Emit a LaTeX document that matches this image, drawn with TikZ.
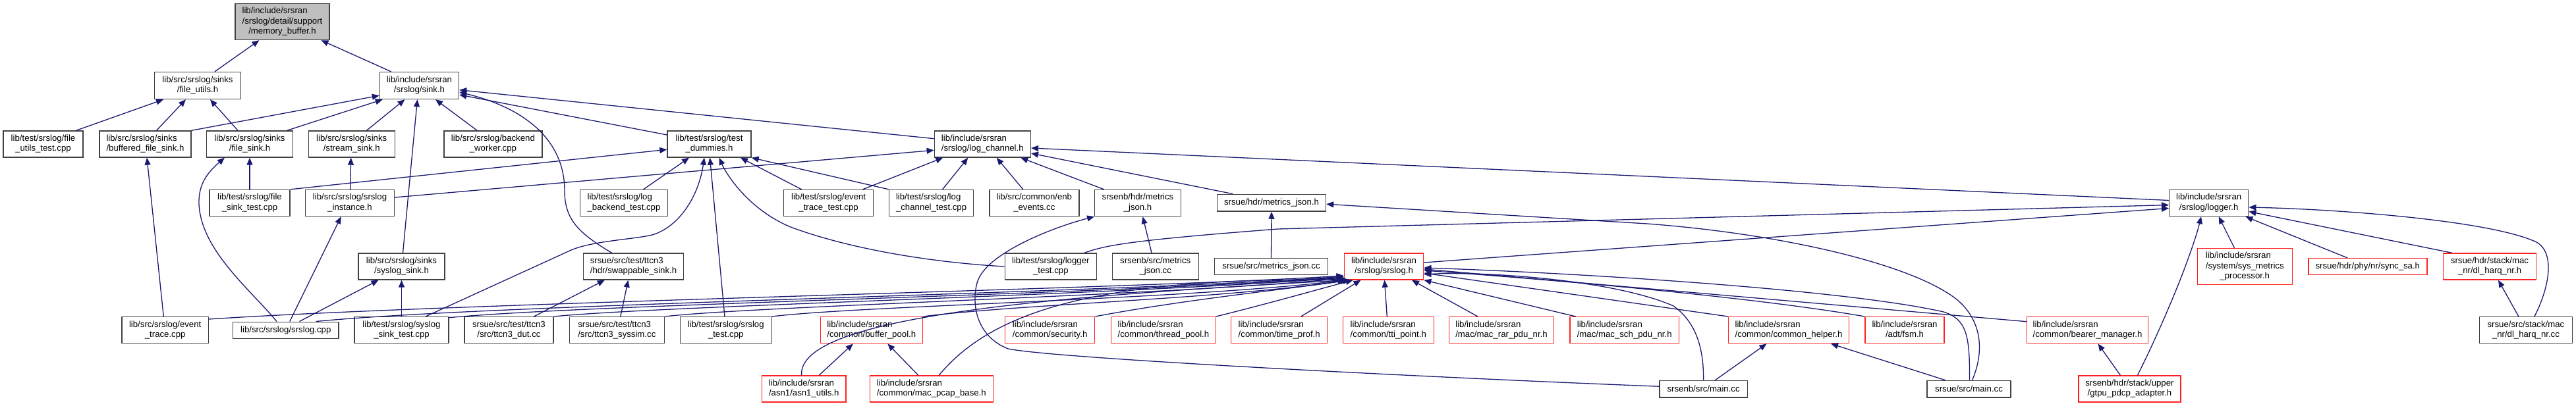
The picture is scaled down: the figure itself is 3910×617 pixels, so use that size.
\documentclass[tikz,border=0pt]{standalone}
\usepackage{fontspec}
\setmainfont{Liberation Sans}
\usetikzlibrary{arrows.meta,calc}
\definecolor{mblue}{HTML}{191970}
\definecolor{gfill}{HTML}{BFBFBF}
\definecolor{gline}{HTML}{404040}
\definecolor{rline}{HTML}{FF2020}
\newcommand{\nodefont}{\fontsize{13.2}{15.3}\selectfont}
\newcommand{\twoline}[2]{\begin{tabular}{@{}l@{}}#1\\\multicolumn{1}{@{}c@{}}{#2}\end{tabular}}
\newcommand{\threeline}[3]{\begin{tabular}{@{}l@{}}#1\\#2\\\multicolumn{1}{@{}c@{}}{#3}\end{tabular}}
\tikzset{
  nb/.style={draw=gline, line width=1.4pt, fill=white, inner sep=0pt, font=\nodefont, align=center, minimum height=40pt},
  nr/.style={nb, draw=rline},
  ng/.style={nb, fill=gfill},
  dep/.style={draw=mblue, line width=1.3pt, -{Triangle[length=11pt,width=9pt]}},
}
\begin{document}
\begin{tikzpicture}[x=1pt,y=-1pt]
\useasboundingbox (0,0) rectangle (3910,617);
% nodes
\node[ng,minimum width=143pt,minimum height=55pt] (n0) at (428.5,33) {\threeline{lib/include/srsran}{/srslog/detail/support}{/memory\_buffer.h}};
\node[nb,minimum width=131pt,minimum height=41pt] (n1) at (300,130) {\twoline{lib/src/srslog/sinks}{/file\_utils.h}};
\node[nb,minimum width=120pt,minimum height=41pt] (n2) at (636.5,130) {\twoline{lib/include/srsran}{/srslog/sink.h}};
\node[nb,minimum width=121pt] (n3) at (65.5,219) {\twoline{lib/test/srslog/file}{\_utils\_test.cpp}};
\node[nb,minimum width=139pt] (n4) at (220.5,219) {\twoline{lib/src/srslog/sinks}{/buffered\_file\_sink.h}};
\node[nb,minimum width=131pt] (n5) at (379,219) {\twoline{lib/src/srslog/sinks}{/file\_sink.h}};
\node[nb,minimum width=131pt] (n6) at (533.7,219) {\twoline{lib/src/srslog/sinks}{/stream\_sink.h}};
\node[nb,minimum width=149pt] (n7) at (748.4,219) {\twoline{lib/src/srslog/backend}{\_worker.cpp}};
\node[nb,minimum width=127pt] (n8) at (1076.5,219) {\twoline{lib/test/srslog/test}{\_dummies.h}};
\node[nb,minimum width=146pt] (n9) at (1491.3,219) {\twoline{lib/include/srsran}{/srslog/log\_channel.h}};
\node[nb,minimum width=122pt] (n10) at (379,308.5) {\twoline{lib/test/srslog/file}{\_sink\_test.cpp}};
\node[nb,minimum width=135pt] (n11) at (531,308.5) {\twoline{lib/src/srslog/srslog}{\_instance.h}};
\node[nb,minimum width=133pt] (n12) at (947,308.5) {\twoline{lib/test/srslog/log}{\_backend\_test.cpp}};
\node[nb,minimum width=136pt] (n13) at (1257.6,308.5) {\twoline{lib/test/srslog/event}{\_trace\_test.cpp}};
\node[nb,minimum width=128pt] (n14) at (1413.6,308.5) {\twoline{lib/test/srslog/log}{\_channel\_test.cpp}};
\node[nb,minimum width=136pt] (n15) at (1569.8,308.5) {\twoline{lib/src/common/enb}{\_events.cc}};
\node[nb,minimum width=130.5pt] (n16) at (1727,308.5) {\twoline{srsenb/hdr/metrics}{\_json.h}};
\node[nb,minimum width=165pt,minimum height=25.7pt] (n17) at (1930,308.2) {srsue/hdr/metrics\_json.h};
\node[nb,minimum width=120pt] (n18) at (3352.7,308.5) {\twoline{lib/include/srsran}{/srslog/logger.h}};
\node[nb,minimum width=131pt] (n19) at (609.5,405) {\twoline{lib/src/srslog/sinks}{/syslog\_sink.h}};
\node[nb,minimum width=152pt] (n20) at (961.5,405) {\twoline{srsue/src/test/ttcn3}{/hdr/swappable\_sink.h}};
\node[nb,minimum width=139pt] (n21) at (1594.8,405) {\twoline{lib/test/srslog/logger}{\_test.cpp}};
\node[nb,minimum width=131pt] (n22) at (1753.7,405) {\twoline{srsenb/src/metrics}{\_json.cc}};
\node[nb,minimum width=172pt,minimum height=25pt] (n23) at (1929.5,405.2) {srsue/src/metrics\_json.cc};
\node[nr,minimum width=120.3pt] (n24) at (2100.5,405) {\twoline{lib/include/srsran}{/srslog/srslog.h}};
\node[nr,minimum width=144pt,minimum height=55pt] (n25) at (3407.2,405.2) {\threeline{lib/include/srsran}{/system/sys\_metrics}{\_processor.h}};
\node[nr,minimum width=180pt,minimum height=25pt] (n26) at (3593.8,405.2) {srsue/hdr/phy/nr/sync\_sa.h};
\node[nr,minimum width=141pt] (n27) at (3779,405) {\twoline{srsue/hdr/stack/mac}{\_nr/dl\_harq\_nr.h}};
\node[nb,minimum width=131.5pt] (n28) at (250.7,501.7) {\twoline{lib/src/srslog/event}{\_trace.cpp}};
\node[nb,minimum width=160.5pt,minimum height=25pt] (n29) at (433.8,501.7) {lib/src/srslog/srslog.cpp};
\node[nb,minimum width=143pt] (n30) at (609.5,501.7) {\twoline{lib/test/srslog/syslog}{\_sink\_test.cpp}};
\node[nb,minimum width=135pt] (n31) at (772.4,501.7) {\twoline{srsue/src/test/ttcn3}{/src/ttcn3\_dut.cc}};
\node[nb,minimum width=144pt] (n32) at (936.3,501.7) {\twoline{srsue/src/test/ttcn3}{/src/ttcn3\_syssim.cc}};
\node[nb,minimum width=139pt] (n33) at (1101.7,501.7) {\twoline{lib/test/srslog/srslog}{\_test.cpp}};
\node[nr,minimum width=155pt] (n34) at (1322.8,501.7) {\twoline{lib/include/srsran}{/common/buffer\_pool.h}};
\node[nr,minimum width=136pt] (n35) at (1593.6,501.7) {\twoline{lib/include/srsran}{/common/security.h}};
\node[nr,minimum width=158.6pt] (n36) at (1765.9,501.7) {\twoline{lib/include/srsran}{/common/thread\_pool.h}};
\node[nr,minimum width=146pt] (n37) at (1941.7,501.7) {\twoline{lib/include/srsran}{/common/time\_prof.h}};
\node[nr,minimum width=138pt] (n38) at (2107.3,501.7) {\twoline{lib/include/srsran}{/common/tti\_point.h}};
\node[nr,minimum width=159pt] (n39) at (2279,501.7) {\twoline{lib/include/srsran}{/mac/mac\_rar\_pdu\_nr.h}};
\node[nr,minimum width=165.4pt] (n40) at (2465.7,501.7) {\twoline{lib/include/srsran}{/mac/mac\_sch\_pdu\_nr.h}};
\node[nr,minimum width=182.6pt] (n41) at (2715,501.7) {\twoline{lib/include/srsran}{/common/common\_helper.h}};
\node[nr,minimum width=120pt] (n42) at (2891,501.7) {\twoline{lib/include/srsran}{/adt/fsm.h}};
\node[nr,minimum width=184pt] (n43) at (3168.5,501.7) {\twoline{lib/include/srsran}{/common/bearer\_manager.h}};
\node[nb,minimum width=141pt] (n44) at (3833.9,501.7) {\twoline{srsue/src/stack/mac}{\_nr/dl\_harq\_nr.cc}};
\node[nr,minimum width=127.6pt] (n45) at (1220.2,591) {\twoline{lib/include/srsran}{/asn1/asn1\_utils.h}};
\node[nr,minimum width=187pt] (n46) at (1413.8,591) {\twoline{lib/include/srsran}{/common/mac\_pcap\_base.h}};
\node[nb,minimum width=133.5pt,minimum height=25.7pt] (n47) at (2585.6,591.2) {srsenb/src/main.cc};
\node[nb,minimum width=126.7pt,minimum height=25.7pt] (n48) at (2988.5,591.2) {srsue/src/main.cc};
\node[nr,minimum width=154.8pt] (n49) at (3232.4,591) {\twoline{srsenb/hdr/stack/upper}{/gtpu\_pdcp\_adapter.h}};
% edges
\draw[dep] ($(n1.north)+(26,0)$) -- ($(n0.south)+(-35,0)$);
\draw[dep] ($(n2.north)+(-43,0)$) -- ($(n0.south)+(59,0)$);
\draw[dep] ($(n3.north)+(50,0)$) -- ($(n1.south)+(-52,0)$);
\draw[dep] ($(n4.north)+(17,0)$) -- ($(n1.south)+(-18,0)$);
\draw[dep] ($(n5.north)+(-18,0)$) -- ($(n1.south)+(19,0)$);
\draw[dep] (n4.north east) -- ($(n2.south west)+(0,-6)$);
\draw[dep] ($(n5.north)+(56.6,0)$) -- ($(n2.south)+(-55.7,0)$);
\draw[dep] ($(n6.north)+(22.7,0)$) -- ($(n2.south)+(-22,0)$);
\draw[dep] ($(n19.north)+(2,0)$) -- ($(n2.south)+(-3,0)$);
\draw[dep] ($(n7.north)+(-24.2,0)$) -- ($(n2.south)+(24.5,0)$);
\draw[dep] ($(n8.west)+(0,-14)$) -- ($(n2.east)+(0,14)$);
\draw[dep] ($(n9.west)+(0,-8.3)$) -- ($(n2.east)+(0,6.7)$);
\draw[dep] ($(n20.north)+(-33,0)$) .. controls (880,355) and (857,335) .. (857,290) .. controls (857,215) and (800,165) .. ($(n2.east)+(0,10)$);
\draw[dep] (n10.north) -- (n5.south);
\draw[dep] ($(n29.north)+(-13.8,0)$) .. controls (380,440) and (305,380) .. (302,310) .. controls (301,280) and (315,262) .. ($(n5.south)+(-38,0)$);
\draw[dep] ($(n11.north)+(0.6,0)$) -- ($(n6.south)+(-1,0)$);
\draw[dep] ($(n28.north)+(-2.4,0)$) -- ($(n4.south)+(2.5,0)$);
\draw[dep] ($(n29.north)+(6,0)$) -- ($(n11.south)+(-13.3,0)$);
\draw[dep] ($(n29.north)+(20.7,0)$) -- ($(n19.south)+(-35,0)$);
\draw[dep] (n30.north) -- (n19.south);
\draw[dep] ($(n12.north)+(29.7,0)$) -- ($(n8.south)+(-30.5,0)$);
\draw[dep] (n10.north east) -- ($(n8.west)+(0,8.3)$);
\draw[dep] ($(n11.east)+(0,-8.5)$) -- ($(n9.west)+(0,9.3)$);
\draw[dep] ($(n30.north)+(36.5,0)$) -- (867,380) .. controls (900,366) and (960,364) .. (990,357) .. controls (1030,345) and (1060,300) .. ($(n8.south)+(-7.5,0)$);
\draw[dep] ($(n33.north)+(-1.7,0)$) -- ($(n8.south)+(1,0)$);
\draw[dep] ($(n13.north)+(-41,0)$) -- ($(n8.south)+(47.5,0)$);
\draw[dep] (n14.north west) -- (n8.south east);
\draw[dep] (n21.west) .. controls (1400,398) and (1280,375) .. (1200,345) .. controls (1140,320) and (1105,270) .. ($(n8.south)+(15,0)$);
\draw[dep] ($(n31.north)+(38,0)$) -- ($(n20.south)+(-43.7,0)$);
\draw[dep] ($(n32.north)+(5.5,0)$) -- ($(n20.south)+(-8,0)$);
\draw[dep] ($(n13.north)+(52,0)$) -- ($(n9.south)+(-60,0)$);
\draw[dep] ($(n14.north)+(17,0)$) -- ($(n9.south)+(-22,0)$);
\draw[dep] ($(n15.north)+(-17,0)$) -- ($(n9.south)+(21.4,0)$);
\draw[dep] ($(n16.north)+(-51.4,0)$) -- ($(n9.south)+(58,0)$);
\draw[dep] ($(n17.north)+(-58.7,0)$) -- ($(n9.east)+(0,14)$);
\draw[dep] ($(n18.west)+(0,-4)$) -- ($(n9.east)+(0,6)$);
\draw[dep] ($(n22.north)+(-5.7,0)$) -- ($(n16.south)+(7.5,0)$);
\draw[dep] (n23.north) -- (n17.south);
\draw[dep] ($(n47.west)+(0,-4)$) .. controls (2200,575) and (1600,545) .. (1530,530) .. controls (1480,510) and (1475,460) .. (1483,430) .. controls (1495,385) and (1600,345) .. (n16.south west);
\draw[dep] ($(n48.north)+(5,0)$) .. controls (3010,540) and (3012,490) .. (2970,455) .. controls (2900,400) and (2700,355) .. (2500,340) -- ($(n17.east)+(0,2)$);
\draw[dep] ($(n21.north)+(51,0)$) .. controls (1680,372) and (1720,365) .. (1940,348) -- ($(n18.west)+(0,3)$);
\draw[dep] ($(n24.east)+(0,-6)$) -- ($(n18.west)+(0,8)$);
\draw[dep] ($(n25.north)+(-15.6,0)$) -- ($(n18.south)+(15,0)$);
\draw[dep] ($(n26.north)+(-30.6,0)$) -- ($(n18.south east)+(-5,0)$);
\draw[dep] ($(n27.north)+(-57.4,0)$) -- ($(n18.east)+(0,13)$);
\draw[dep] ($(n44.north)+(13,0)$) .. controls (3868,440) and (3880,385) .. (3850,368) .. controls (3780,335) and (3550,318) .. ($(n18.east)+(0,6.5)$);
\draw[dep] ($(n44.north)+(-11,0)$) -- ($(n27.south)+(13,0)$);
\draw[dep] ($(n49.north)+(12,0)$) .. controls (3270,520) and (3300,450) .. (3315,410) .. controls (3330,370) and (3336,350) .. ($(n18.south)+(-11.7,0)$);
\draw[dep] ($(n49.north)+(-14,0)$) -- ($(n43.south)+(16,0)$);
\draw[dep] ($(n48.north)+(-36,0)$) -- ($(n41.south)+(64,0)$);
\draw[dep] ($(n47.north)+(17.8,0)$) -- ($(n41.south)+(-33.6,0)$);
\draw[dep] ($(n45.north)+(23,0)$) -- ($(n34.south)+(-28,0)$);
\draw[dep] ($(n46.north)+(-20,0)$) -- ($(n34.south)+(24.5,0)$);
% into srslog.h from below
\draw[dep] ($(n37.north)+(33,0)$) -- ($(n24.south)+(-35,0)$);
\draw[dep] ($(n38.north)+(-2,0)$) -- ($(n24.south)+(1,0)$);
\draw[dep] ($(n39.north)+(-36,0)$) -- ($(n24.south)+(42.5,0)$);
\draw[dep] ($(n40.north)+(-74,0)$) -- (n24.south east);
% into srslog.h from the left
\draw[dep] ($(n28.east)+(0,-16.7)$) .. controls (700,460) and (1700,440) .. ($(n24.west)+(0,14)$);
\draw[dep] ($(n29.north)+(46,0)$) .. controls (750,462) and (1700,445) .. ($(n24.west)+(0,15)$);
\draw[dep] ($(n30.east)+(0,-19)$) .. controls (900,462) and (1700,447) .. ($(n24.west)+(0,16)$);
\draw[dep] (n31.north east) .. controls (1000,465) and (1700,448) .. ($(n24.west)+(0,17)$);
\draw[dep] (n32.north east) .. controls (1150,465) and (1750,450) .. ($(n24.west)+(0,18)$);
\draw[dep] (n33.north east) .. controls (1300,465) and (1800,455) .. ($(n24.south west)+(2,0)$);
\draw[dep] ($(n45.north)+(-3.6,0)$) .. controls (1210,480) and (1600,450) .. ($(n24.south west)+(4,0)$);
\draw[dep] (n34.north east) .. controls (1550,462) and (1850,455) .. ($(n24.south west)+(6,0)$);
\draw[dep] ($(n46.north)+(11.4,0)$) .. controls (1500,480) and (1650,420) .. ($(n24.south west)+(8,0)$);
\draw[dep] (n35.north east) .. controls (1800,455) and (1950,440) .. ($(n24.south west)+(10,0)$);
\draw[dep] (n36.north east) .. controls (1930,460) and (2000,440) .. ($(n24.south west)+(14,0)$);
% into srslog.h from the right
\draw[dep] (n41.north west) -- ($(n24.east)+(0,10)$);
\draw[dep] (n42.north west) .. controls (2700,458) and (2450,432) .. ($(n24.east)+(0,6)$);
\draw[dep] ($(n43.west)+(0,-13)$) -- ($(n24.east)+(0,4)$);
\draw[dep] ($(n48.north)+(1,0)$) .. controls (2990,510) and (2985,485) .. (2950,474) .. controls (2800,440) and (2400,415) .. ($(n24.east)+(0,2)$);
\draw[dep] (n47.north) .. controls (2586,530) and (2575,490) .. (2540,465) .. controls (2450,425) and (2250,412) .. ($(n24.east)+(0,12)$);
\end{tikzpicture}
\end{document}
